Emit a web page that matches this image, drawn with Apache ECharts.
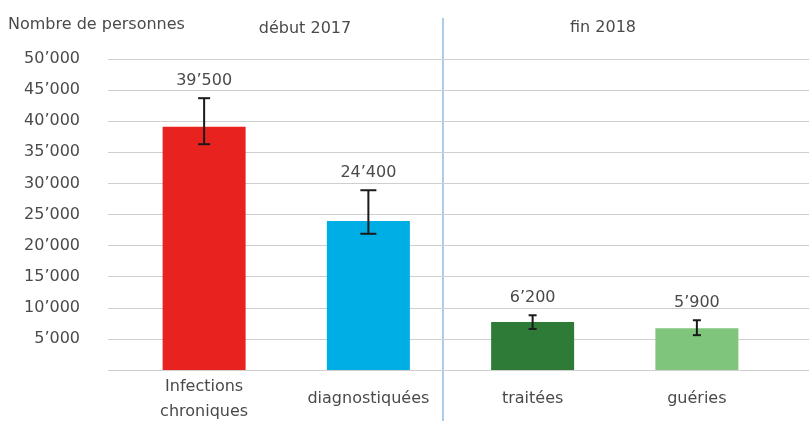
<!DOCTYPE html>
<html><head><meta charset="utf-8">
<script src="https://cdn.jsdelivr.net/npm/echarts@6/dist/echarts.min.js"></script>
<style>html,body{margin:0;padding:0;background:#fff}#c{width:809px;height:421px}</style>
</head><body><div id="c"></div>
<script>
// ---- data ----
const categories = ['Infections\nchroniques', 'diagnostiquées', 'traitées', 'guéries'];
const values = [39100, 23950, 7700, 6700];
const errLow = [36300, 21900, 6600, 5600];
const errHigh = [43700, 28900, 8800, 8000];
const valueLabels = ['39\u2019500', '24\u2019400', '6\u2019200', '5\u2019900'];
const yMin = 0, yMax = 50000, yStep = 5000;
const groupLabels = ['début 2017', 'fin 2018'];
const yAxisTitle = 'Nombre de personnes';

// ---- style ----
const barColors = ['#e8231f', '#00aee6', '#2e7b38', '#7fc57c'];
const capHalf = [6, 8, 4, 4];
const FONT = '"DejaVu Sans", sans-serif';
const FS = 16;
const TXT = '#4a4a4a';

function fmt(v) {
  if (v === 0) return '';
  const s = String(v);
  return s.length > 3 ? s.slice(0, -3) + '\u2019' + s.slice(-3) : s;
}

const chart = echarts.init(document.getElementById('c'), null, {renderer: 'canvas'});
chart.setOption({
  animation: false,
  backgroundColor: '#fff',
  grid: [
    {left: 108, right: 0, top: 59, bottom: 51, outerBoundsMode: 'none', containLabel: false},
    {left: 122, right: 30, top: 59, bottom: 51, outerBoundsMode: 'none', containLabel: false}
  ],
  xAxis: [
    {gridIndex: 0, type: 'value', min: 0, max: 1, show: false},
    {gridIndex: 1, type: 'category', data: categories,
     axisLine: {show: false}, axisTick: {show: false},
     axisLabel: {color: TXT, fontFamily: FONT, fontSize: FS, margin: 29,
                 verticalAlign: 'middle', lineHeight: 25, interval: 0}}
  ],
  yAxis: [
    {gridIndex: 0, type: 'value', min: yMin, max: yMax, interval: yStep,
     axisLine: {show: false}, axisTick: {show: false},
     splitLine: {lineStyle: {color: '#cfcfcf', width: 1.2}},
     axisLabel: {color: TXT, fontFamily: FONT, fontSize: FS, margin: 28, formatter: fmt}},
    {gridIndex: 1, type: 'value', min: yMin, max: yMax, interval: yStep, show: false}
  ],
  graphic: [
    {type: 'text', left: 8, top: 17, style: {text: yAxisTitle, fill: TXT, font: FS + 'px ' + FONT}},
    {type: 'text', x: 305, y: 29, style: {text: groupLabels[0], fill: TXT, font: FS + 'px ' + FONT, align: 'center', verticalAlign: 'middle'}},
    {type: 'text', x: 603, y: 28, style: {text: groupLabels[1], fill: TXT, font: FS + 'px ' + FONT, align: 'center', verticalAlign: 'middle'}},
    {type: 'line', shape: {x1: 443, y1: 18, x2: 443, y2: 421}, style: {stroke: '#8fbde2', lineWidth: 1.5}}
  ],
  series: [
    {type: 'bar', xAxisIndex: 1, yAxisIndex: 1, barWidth: 83,
     data: values.map((v, i) => ({value: v, itemStyle: {color: barColors[i]}}))},
    {type: 'custom', xAxisIndex: 1, yAxisIndex: 1, z: 5,
     data: values.map((v, i) => [i, errLow[i], errHigh[i]]),
     renderItem: function (params, api) {
       const i = api.value(0);
       const lo = api.coord([i, api.value(1)]);
       const hi = api.coord([i, api.value(2)]);
       const h = capHalf[i];
       const st = {stroke: '#1a1a1a', lineWidth: 2};
       return {type: 'group', children: [
         {type: 'line', shape: {x1: hi[0], y1: hi[1], x2: lo[0], y2: lo[1]}, style: st},
         {type: 'line', shape: {x1: hi[0] - h, y1: hi[1], x2: hi[0] + h, y2: hi[1]}, style: st},
         {type: 'line', shape: {x1: lo[0] - h, y1: lo[1], x2: lo[0] + h, y2: lo[1]}, style: st},
         {type: 'text', x: hi[0], y: hi[1] - 17,
          style: {text: valueLabels[i], fill: TXT, font: FS + 'px ' + FONT, align: 'center', verticalAlign: 'middle'}}
       ]};
     }}
  ]
});
</script></body></html>
